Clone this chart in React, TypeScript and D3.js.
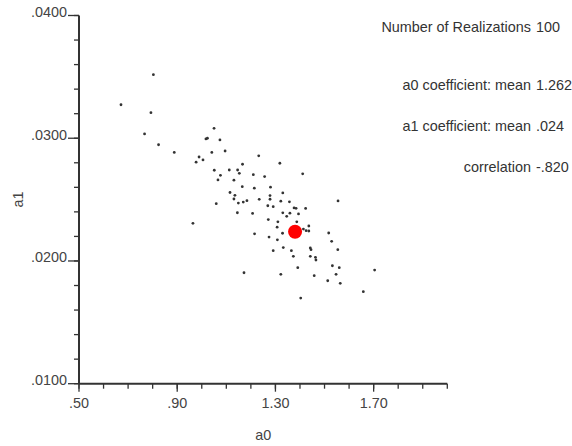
import React, { useEffect, useRef } from 'react';
import * as d3 from 'd3';

// a0 / a1 estimates, one per realization
const a0Values = [
  0.803, 0.671, 0.793, 0.767, 0.824, 0.888, 0.977, 0.989, 1.005, 1.050,
  1.017, 1.023, 1.074, 1.041, 1.095, 1.232, 1.166, 1.318, 1.051, 1.112,
  1.146, 1.153, 1.076, 1.066, 1.131, 1.210, 1.256, 1.411, 1.165, 1.214,
  1.280, 1.115, 1.135, 1.330, 1.131, 1.149, 1.169, 1.184, 1.234, 1.278,
  1.278, 1.059, 0.964, 1.145, 1.207, 1.269, 1.291, 1.322, 1.357, 1.376,
  1.384, 1.423, 1.555, 1.330, 1.359, 1.346, 1.394, 1.271, 1.310, 1.387,
  1.436, 1.307, 1.329, 1.414, 1.425, 1.436, 1.274, 1.308, 1.215, 1.517,
  1.529, 1.291, 1.332, 1.365, 1.373, 1.442, 1.445, 1.442, 1.463, 1.465,
  1.554, 1.532, 1.560, 1.391, 1.322, 1.458, 1.513, 1.547, 1.564, 1.704,
  1.658, 1.403, 1.172,
];
const a1Values = [
  0.03518, 0.03273, 0.03208, 0.03035, 0.02947, 0.02884, 0.02805, 0.02847, 0.02823, 0.03081,
  0.02994, 0.03000, 0.02986, 0.02884, 0.02896, 0.02857, 0.02788, 0.02796, 0.02739, 0.02741,
  0.02741, 0.02714, 0.02698, 0.02660, 0.02658, 0.02703, 0.02688, 0.02710, 0.02605, 0.02593,
  0.02601, 0.02558, 0.02535, 0.02554, 0.02505, 0.02472, 0.02480, 0.02491, 0.02502, 0.02533,
  0.02503, 0.02467, 0.02307, 0.02393, 0.02387, 0.02450, 0.02442, 0.02487, 0.02482, 0.02432,
  0.02429, 0.02428, 0.02489, 0.02392, 0.02389, 0.02364, 0.02383, 0.02337, 0.02319, 0.02319,
  0.02285, 0.02275, 0.02226, 0.02260, 0.02247, 0.02244, 0.02195, 0.02172, 0.02221, 0.02228,
  0.02160, 0.02084, 0.02109, 0.02084, 0.02038, 0.02106, 0.02092, 0.02038, 0.02030, 0.02008,
  0.02092, 0.01961, 0.01945, 0.01945, 0.01891, 0.01880, 0.01839, 0.01891, 0.01818, 0.01926,
  0.01750, 0.01698, 0.01904,
];

// highlighted point
const markerA0 = 1.38;
const markerA1 = 0.02238;

const xTickValues = [0.5, 0.9, 1.3, 1.7];
const xTickLabels = ['.50', '.90', '1.30', '1.70'];
const yTickValues = [0.01, 0.02, 0.03, 0.04];
const yTickLabels = ['.0100', '.0200', '.0300', '.0400'];

const statLabels = ['Number of Realizations', 'a0 coefficient: mean', 'a1 coefficient: mean', 'correlation'];
const statValues = ['100', '1.262', '.024', '-.820'];

const W = 572;
const H = 446;
const FONT = '"Liberation Sans", Arial, Helvetica, sans-serif';
const FS = 14.4;

export default function App() {
  const svgRef = useRef<SVGSVGElement>(null);

  useEffect(() => {
    const margin = { top: 15.5, right: 124.7, bottom: 62.3, left: 79 };
    const width = W - margin.left - margin.right;
    const height = H - margin.top - margin.bottom;

    const svg = d3.select(svgRef.current);
    svg.selectAll('*').remove();

    const g = svg.append('g')
      .attr('transform', `translate(${margin.left}, ${margin.top})`);

    const xScale = d3.scaleLinear().domain([0.5, 2.0]).range([0, width]);
    const yScale = d3.scaleLinear().domain([0.01, 0.04]).range([height, 0]);

    const axisColor = '#333';

    // minor ticks
    const xMinor = d3.range(0, 16).map(i => 0.5 + i * 0.1);
    const yMinor = d3.range(0, 16).map(i => 0.01 + i * 0.002);

    g.append('g')
      .selectAll('line')
      .data(xMinor)
      .join('line')
        .attr('x1', d => xScale(d))
        .attr('x2', d => xScale(d))
        .attr('y1', height)
        .attr('y2', height + 5)
        .attr('stroke', axisColor)
        .attr('stroke-width', 1.3);

    g.append('g')
      .selectAll('line')
      .data(yMinor)
      .join('line')
        .attr('x1', -5)
        .attr('x2', 0)
        .attr('y1', d => yScale(d))
        .attr('y2', d => yScale(d))
        .attr('stroke', axisColor)
        .attr('stroke-width', 1.3);

    // major ticks + labels
    g.append('g')
      .selectAll('line')
      .data(xTickValues)
      .join('line')
        .attr('x1', d => xScale(d))
        .attr('x2', d => xScale(d))
        .attr('y1', height)
        .attr('y2', height + 8)
        .attr('stroke', axisColor)
        .attr('stroke-width', 1.3);

    g.append('g')
      .selectAll('text')
      .data(xTickValues)
      .join('text')
        .attr('x', d => xScale(d))
        .attr('y', height + 24.5)
        .attr('text-anchor', 'middle')
        .attr('font-family', FONT)
        .attr('font-size', FS)
        .attr('fill', '#444')
        .text((d, i) => xTickLabels[i]);

    g.append('g')
      .selectAll('line')
      .data(yTickValues)
      .join('line')
        .attr('x1', -11)
        .attr('x2', 0)
        .attr('y1', d => yScale(d))
        .attr('y2', d => yScale(d))
        .attr('stroke', axisColor)
        .attr('stroke-width', 1.3);

    g.append('g')
      .selectAll('text')
      .data(yTickValues)
      .join('text')
        .attr('x', -12)
        .attr('y', d => yScale(d) + 1.5)
        .attr('text-anchor', 'end')
        .attr('font-family', FONT)
        .attr('font-size', FS)
        .attr('fill', '#444')
        .text((d, i) => yTickLabels[i]);

    // axis lines
    g.append('line')
      .attr('x1', 0).attr('x2', width)
      .attr('y1', height).attr('y2', height)
      .attr('stroke', axisColor)
      .attr('stroke-width', 2);
    g.append('line')
      .attr('x1', 0).attr('x2', 0)
      .attr('y1', 0).attr('y2', height)
      .attr('stroke', axisColor)
      .attr('stroke-width', 2);

    // axis titles
    g.append('text')
      .attr('x', width / 2)
      .attr('y', height + 56)
      .attr('text-anchor', 'middle')
      .attr('font-family', FONT)
      .attr('font-size', FS)
      .attr('fill', '#444')
      .text('a0');

    g.append('text')
      .attr('transform', `translate(${23 - margin.left}, ${height / 2}) rotate(-90)`)
      .attr('text-anchor', 'middle')
      .attr('font-family', FONT)
      .attr('font-size', FS)
      .attr('fill', '#444')
      .text('a1');

    // points
    g.append('g')
      .selectAll('circle')
      .data(a0Values.map((a0, i) => [a0, a1Values[i]]))
      .join('circle')
        .attr('cx', d => xScale(d[0]))
        .attr('cy', d => yScale(d[1]))
        .attr('r', 1.4)
        .attr('fill', '#333');

    g.append('circle')
      .attr('cx', xScale(markerA0))
      .attr('cy', yScale(markerA1))
      .attr('r', 7)
      .attr('fill', '#ff0000');

    // stats block
    const statY = [32, 90, 131, 171.5];
    const stats = svg.append('g');
    stats.selectAll('text.lbl')
      .data(statLabels)
      .join('text')
        .attr('class', 'lbl')
        .attr('x', 531)
        .attr('y', (d, i) => statY[i])
        .attr('text-anchor', 'end')
        .attr('font-family', FONT)
        .attr('font-size', FS)
        .attr('fill', '#333')
        .text(d => d);
    stats.selectAll('text.val')
      .data(statValues)
      .join('text')
        .attr('class', 'val')
        .attr('x', 536)
        .attr('y', (d, i) => statY[i])
        .attr('text-anchor', 'start')
        .attr('font-family', FONT)
        .attr('font-size', FS)
        .attr('fill', '#333')
        .text(d => d);
  }, []);

  return (
    <div style={{ position: 'fixed', left: 0, top: 0, width: W, height: H, background: '#fff' }}>
      <svg ref={svgRef} width={W} height={H} style={{ display: 'block' }}></svg>
    </div>
  );
}
